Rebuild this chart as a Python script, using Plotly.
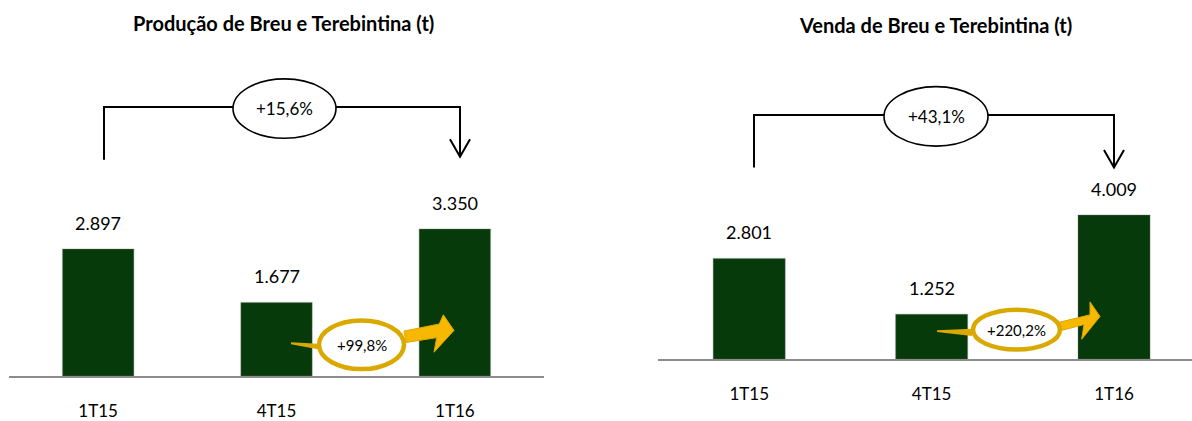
import plotly.graph_objects as go

W, H = 1192, 421

# ---------------- data ----------------
categories = ["1T15", "4T15", "1T16"]
producao = [2897, 1677, 3350]
producao_labels = ["2.897", "1.677", "3.350"]
venda = [2801, 1252, 4009]
venda_labels = ["2.801", "1.252", "4.009"]
titles = ["Produção de Breu e Terebintina (t)", "Venda de Breu e Terebintina (t)"]
var_anual = ["+15,6%", "+43,1%"]
var_trim = ["+99,8%", "+220,2%"]

FONT = "Lato"
BAR = "#063A0A"
GOLD_LINE = "#D9A900"
GOLD_FILL = "#F6B800"

fig = go.Figure()

bar_line = dict(color="rgba(120,120,120,0.25)", width=1.5)
fig.add_trace(go.Bar(x=categories, y=producao, marker=dict(color=BAR, line=bar_line),
                     width=0.4, xaxis="x", yaxis="y", showlegend=False, hoverinfo="skip"))
fig.add_trace(go.Bar(x=categories, y=venda, marker=dict(color=BAR, line=bar_line),
                     width=0.395, xaxis="x2", yaxis="y2", showlegend=False, hoverinfo="skip"))

axis_common = dict(type="category", showgrid=False, zeroline=False, ticks="",
                   showline=True, linecolor="#8C8C8C", linewidth=2,
                   tickfont=dict(family=FONT, size=17, color="#000"))
fig.update_layout(
    width=W, height=H, margin=dict(l=0, r=0, t=0, b=0),
    paper_bgcolor="white", plot_bgcolor="white",
    xaxis=dict(domain=[9 / W, 544 / W], range=[-0.5, 2.5], anchor="y",
               ticklabelstandoff=19, **axis_common),
    yaxis=dict(domain=[(H - 386) / H, 1], range=[0, 386 / 0.045], visible=False),
    xaxis2=dict(domain=[658 / W, 1], range=[-0.5, (1192 - 749) / 182.5], anchor="y2",
                ticklabelstandoff=18, **axis_common),
    yaxis2=dict(domain=[(H - 369) / H, 1], range=[0, 369 / 0.037], visible=False),
    bargap=0.6,
)

ann = []
for xr, yr, vals, labs in [("x", "y", producao, producao_labels), ("x2", "y2", venda, venda_labels)]:
    for c, v, t in zip(categories, vals, labs):
        ann.append(dict(x=c, y=v, xref=xr, yref=yr, text=t, showarrow=False,
                        xanchor="center", yanchor="bottom", yshift=13,
                        font=dict(family=FONT, size=18, color="#000")))

def P(x, y):
    return x / W, 1 - y / H

for (cx, cy), t in zip([(283, 24), (935, 26)], titles):
    px, py = P(cx, cy)
    ann.append(dict(x=px, y=py, xref="paper", yref="paper", text="<b>%s</b>" % t,
                    showarrow=False, xanchor="center", yanchor="middle",
                    font=dict(family=FONT, size=20, color="#000")))

shapes = []

def path(pts, close=False):
    s = "M " + " L ".join("%.5f,%.5f" % P(x, y) for x, y in pts)
    return s + (" Z" if close else "")

brackets = [
    dict(xl=104, yl=164, yh=110, e=(233, 336, 81, 142), xr=460, yr=161),
    dict(xl=754, yl=172, yh=118, e=(884, 988, 89, 150), xr=1114, yr=172),
]
for b, lab in zip(brackets, var_anual):
    ex0, ex1, ey0, ey1 = b["e"]
    shapes.append(dict(type="path", xref="paper", yref="paper",
                       path=path([(b["xl"], b["yl"]), (b["xl"], b["yh"]), (ex0, b["yh"])]),
                       line=dict(color="#000", width=2)))
    shapes.append(dict(type="path", xref="paper", yref="paper",
                       path=path([(ex1, b["yh"]), (b["xr"], b["yh"]), (b["xr"], b["yr"])]),
                       line=dict(color="#000", width=2)))
    shapes.append(dict(type="path", xref="paper", yref="paper",
                       path=path([(b["xr"] - 10, b["yr"] - 18), (b["xr"], b["yr"]), (b["xr"] + 10, b["yr"] - 18)]),
                       line=dict(color="#000", width=2)))
    x0, y0 = P(ex0, ey1)
    x1, y1 = P(ex1, ey0)
    shapes.append(dict(type="circle", xref="paper", yref="paper", x0=x0, x1=x1, y0=y0, y1=y1,
                       fillcolor="white", line=dict(color="#000", width=1.6)))
    cx, cy = P((ex0 + ex1) / 2, (ey0 + ey1) / 2)
    ann.append(dict(x=cx, y=cy, xref="paper", yref="paper", text=lab, showarrow=False,
                    xanchor="center", yanchor="middle",
                    font=dict(family=FONT, size=17, color="#000")))

golds = [
    dict(tail=[(291, 351.5), (318, 353), (318, 358.5), (291, 353.5)],
         arrow=[(404, 340), (439.3, 332.7), (443.3, 323.3), (454, 339.3), (434, 361.7), (436.7, 346.7), (406, 351.7)],
         e=(317, 406, 327, 381)),
    dict(tail=[(937, 339), (972, 337.5), (972, 345), (937, 341)],
         arrow=[(1056, 331.7), (1090, 323.3), (1090, 310), (1100, 325), (1081.7, 348.3), (1084, 333.3), (1059, 340)],
         e=(971, 1062, 316, 361)),
]
for g, lab in zip(golds, var_trim):
    shapes.append(dict(type="path", xref="paper", yref="paper", path=path(g["tail"], True),
                       fillcolor=GOLD_LINE, line=dict(width=0)))
    shapes.append(dict(type="path", xref="paper", yref="paper", path=path(g["arrow"], True),
                       fillcolor=GOLD_FILL, line=dict(color="#E0A600", width=1)))
    ex0, ex1, ey0, ey1 = g["e"]
    x0, y0 = P(ex0 + 2, ey1 - 2)
    x1, y1 = P(ex1 - 2, ey0 + 2)
    shapes.append(dict(type="circle", xref="paper", yref="paper", x0=x0, x1=x1, y0=y0, y1=y1,
                       fillcolor="white", line=dict(color=GOLD_LINE, width=4.5)))
    cx, cy = P((ex0 + ex1) / 2, (ey0 + ey1) / 2)
    ann.append(dict(x=cx, y=cy, xref="paper", yref="paper", text=lab, showarrow=False,
                    xanchor="center", yanchor="middle",
                    font=dict(family=FONT, size=15, color="#000")))

fig.update_layout(annotations=ann, shapes=shapes)
fig.write_html("out.html", config={"displayModeBar": False},
               post_script="document.body.style.margin='0';document.body.style.overflow='hidden';")
